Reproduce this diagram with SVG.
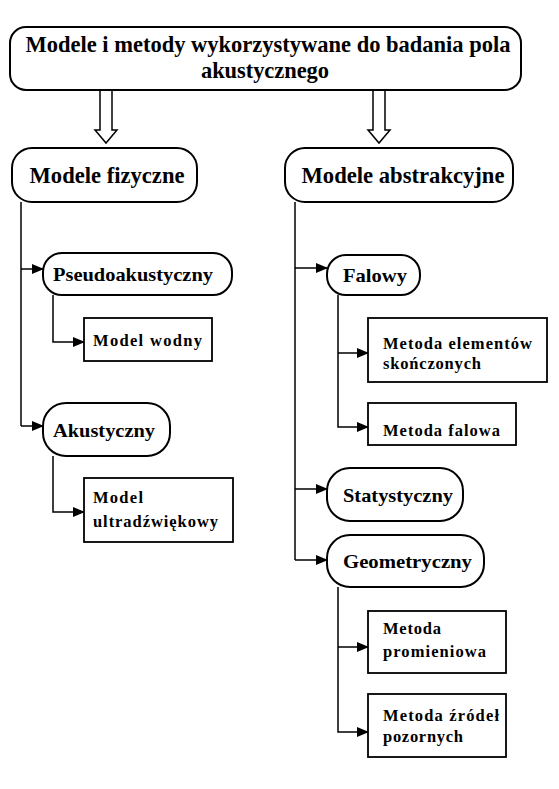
<svg xmlns="http://www.w3.org/2000/svg" width="559" height="789" viewBox="0 0 559 789">
<defs>
<marker id="ah" markerWidth="12" markerHeight="10" refX="11" refY="5" orient="auto" markerUnits="userSpaceOnUse">
<path d="M0,0 L12,5 L0,10 Z" fill="#000"/>
</marker>
<style>
.pill{fill:#fff;stroke:#000;stroke-width:2}
.box{fill:#fff;stroke:#000;stroke-width:1.8}
.t{font-family:"Liberation Serif","Times New Roman",serif;font-weight:bold;fill:#000}
.big{font-size:24px}
.mid{font-size:19.5px}
.sm{font-size:16.5px}
.c{fill:none;stroke:#000;stroke-width:1.5}
.blk{fill:#fff;stroke:#000;stroke-width:1.5}
</style>
</defs>
<rect width="559" height="789" fill="#fff"/>

<g id="connectors">
<polygon class="blk" points="100,90 112,90 112,130 117,130 106,143 95,130 100,130"/>
<polygon class="blk" points="373,90 385,90 385,130 390,130 379,143 368,130 373,130"/>
<path class="c" d="M21,202 V426"/>
<path class="c" d="M21,269 H43" marker-end="url(#ah)"/>
<path class="c" d="M21,426 H43" marker-end="url(#ah)"/>
<path class="c" d="M53,295 V342 H84" marker-end="url(#ah)"/>
<path class="c" d="M53,456 V512 H84" marker-end="url(#ah)"/>
<path class="c" d="M295,202 V560"/>
<path class="c" d="M295,268 H327" marker-end="url(#ah)"/>
<path class="c" d="M295,489 H327" marker-end="url(#ah)"/>
<path class="c" d="M295,560 H327" marker-end="url(#ah)"/>
<path class="c" d="M338,295 V427 H368" marker-end="url(#ah)"/>
<path class="c" d="M338,353 H368" marker-end="url(#ah)"/>
<path class="c" d="M338,587 V732 H368" marker-end="url(#ah)"/>
<path class="c" d="M338,647 H368" marker-end="url(#ah)"/>
</g>

<g id="n-root">
<rect class="pill" x="10" y="27" width="511" height="63" rx="16" ry="16"/>
<text class="t" x="268" y="52" text-anchor="middle" font-size="22.5" textLength="485" lengthAdjust="spacingAndGlyphs">Modele i metody wykorzystywane do badania pola</text>
<text class="t" x="265" y="78" text-anchor="middle" font-size="22.5" textLength="128" lengthAdjust="spacing">akustycznego</text>
</g>

<g id="n-fiz">
<rect class="pill" x="12" y="148" width="185" height="54" rx="20" ry="20"/>
<text class="t big" x="107" y="183" text-anchor="middle" textLength="155" lengthAdjust="spacingAndGlyphs">Modele fizyczne</text>
</g>

<g id="n-abs">
<rect class="pill" x="285" y="148" width="228" height="54" rx="20" ry="20"/>
<text class="t big" x="403" y="183" text-anchor="middle" textLength="203" lengthAdjust="spacingAndGlyphs">Modele abstrakcyjne</text>
</g>

<g id="n-pseudo">
<rect class="pill" x="43" y="253" width="189" height="42" rx="19" ry="19"/>
<text class="t mid" x="53" y="281" textLength="160" lengthAdjust="spacingAndGlyphs">Pseudoakustyczny</text>
</g>

<g id="n-wodny">
<rect class="box" x="84" y="318" width="128" height="43"/>
<text class="t sm" x="93" y="346" textLength="109" lengthAdjust="spacing">Model wodny</text>
</g>

<g id="n-akust">
<rect class="pill" x="43" y="403" width="127" height="53" rx="23" ry="23"/>
<text class="t mid" x="53" y="437" textLength="102" lengthAdjust="spacingAndGlyphs">Akustyczny</text>
</g>

<g id="n-ultra">
<rect class="box" x="84" y="478" width="149" height="64"/>
<text class="t sm" x="93" y="503" textLength="50" lengthAdjust="spacing">Model</text>
<text class="t sm" x="93" y="527" textLength="125" lengthAdjust="spacing">ultradźwiękowy</text>
</g>

<g id="n-falowy">
<rect class="pill" x="327" y="255" width="93" height="40" rx="19" ry="19"/>
<text class="t mid" x="343" y="282" textLength="64" lengthAdjust="spacingAndGlyphs">Falowy</text>
</g>

<g id="n-mes">
<rect class="box" x="368" y="318" width="179" height="64"/>
<text class="t sm" x="383" y="349" textLength="149" lengthAdjust="spacing">Metoda elementów</text>
<text class="t sm" x="383" y="369" textLength="98" lengthAdjust="spacing">skończonych</text>
</g>

<g id="n-mfal">
<rect class="box" x="368" y="403" width="148" height="42"/>
<text class="t sm" x="383" y="436" textLength="117" lengthAdjust="spacing">Metoda falowa</text>
</g>

<g id="n-stat">
<rect class="pill" x="327" y="468" width="136" height="53" rx="23" ry="23"/>
<text class="t mid" x="343" y="502" textLength="110" lengthAdjust="spacingAndGlyphs">Statystyczny</text>
</g>

<g id="n-geo">
<rect class="pill" x="327" y="535" width="157" height="52" rx="23" ry="23"/>
<text class="t mid" x="343" y="568" textLength="129" lengthAdjust="spacingAndGlyphs">Geometryczny</text>
</g>

<g id="n-prom">
<rect class="box" x="368" y="611" width="138" height="62"/>
<text class="t sm" x="383" y="634" textLength="58" lengthAdjust="spacing">Metoda</text>
<text class="t sm" x="383" y="657" textLength="103" lengthAdjust="spacing">promieniowa</text>
</g>

<g id="n-zrodel">
<rect class="box" x="368" y="694" width="138" height="63"/>
<text class="t sm" x="383" y="721" textLength="116" lengthAdjust="spacing">Metoda źródeł</text>
<text class="t sm" x="383" y="742" textLength="80" lengthAdjust="spacing">pozornych</text>
</g>
</svg>
